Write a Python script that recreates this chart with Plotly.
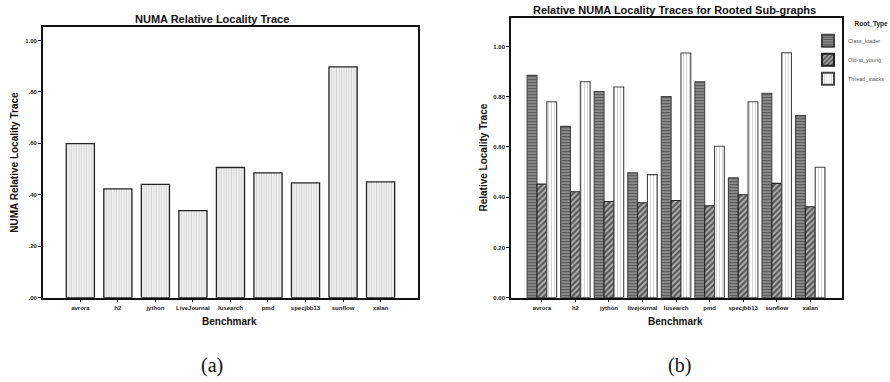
import plotly.graph_objects as go

# ---- data (a) ----
bench_a = ["avrora", "h2", "jython", "LiveJournal", "lusearch", "pmd", "specjbb13", "sunflow", "xalan"]
trace_a = [0.599, 0.423, 0.440, 0.338, 0.506, 0.485, 0.446, 0.897, 0.450]
ytick_vals = [0.0, 0.2, 0.4, 0.6, 0.8, 1.0]
ytick_text_a = [".00", ".20", ".40", ".60", ".80", "1.00"]

# ---- data (b) ----
bench_b = ["avrora", "h2", "jython", "livejournal", "lusearch", "pmd", "specjbb13", "sunflow", "xalan"]
class_loader = [0.885, 0.682, 0.821, 0.497, 0.801, 0.860, 0.477, 0.814, 0.725]
old_to_young = [0.452, 0.422, 0.383, 0.378, 0.387, 0.366, 0.410, 0.455, 0.362]
thread_stacks = [0.780, 0.860, 0.839, 0.490, 0.974, 0.603, 0.780, 0.975, 0.519]
ytick_text_b = ["0.00", "0.20", "0.40", "0.60", "0.80", "1.00"]

W, H = 890, 382
def px(x): return x / W
def py(y): return (H - y) / H

FONT = "Liberation Sans, Arial, sans-serif"
SERIF = "Liberation Serif, DejaVu Serif, serif"

fig = go.Figure()

fig.add_trace(go.Bar(
    x=bench_a, y=trace_a, xaxis="x", yaxis="y", width=0.75, offset=-0.375,
    showlegend=False,
    marker=dict(color="white", line=dict(color="#222", width=1.3),
                pattern=dict(shape="|", size=2.5, solidity=0.4, fgcolor="#b0b0b0", bgcolor="#f4f4f4")),
))

bw = 0.293
fig.add_trace(go.Bar(
    x=bench_b, y=class_loader, xaxis="x2", yaxis="y2", width=bw, offset=-0.44,
    name="Class_loader",
    marker=dict(color="white", line=dict(color="#444", width=1.1),
                pattern=dict(shape="-", size=3, solidity=0.5, fgcolor="#111", bgcolor="#9a9a9a")),
))
fig.add_trace(go.Bar(
    x=bench_b, y=old_to_young, xaxis="x2", yaxis="y2", width=bw, offset=-0.147,
    name="Old-to_young",
    marker=dict(color="white", line=dict(color="#222", width=1.1),
                pattern=dict(shape="/", size=4, solidity=0.6, fgcolor="#000", bgcolor="#b8b8b8")),
))
fig.add_trace(go.Bar(
    x=bench_b, y=thread_stacks, xaxis="x2", yaxis="y2", width=bw, offset=0.146,
    name="Thread_stacks",
    marker=dict(color="white", line=dict(color="#444", width=1.1),
                pattern=dict(shape="|", size=3, solidity=0.35, fgcolor="#aaa", bgcolor="white")),
))

tickfont = dict(family=FONT, size=6, color="#222", weight="bold")
axis_common = dict(showgrid=False, zeroline=False, showline=True, linecolor="#111", linewidth=1.5,
                   mirror=True, ticks="outside", ticklen=3, tickwidth=1, tickcolor="#111",
                   tickfont=tickfont, fixedrange=True)

fig.update_layout(
    width=W, height=H, margin=dict(l=0, r=0, t=0, b=0),
    paper_bgcolor="white", plot_bgcolor="white",
    barmode="overlay",
    xaxis=dict(domain=[px(43), px(420)], anchor="y", type="category", range=[-1, 9],
               categoryorder="array", categoryarray=bench_a, **axis_common),
    yaxis=dict(domain=[py(300), py(27)], anchor="x", range=[0, 1.053],
               tickvals=ytick_vals, ticktext=ytick_text_a, **axis_common),
    xaxis2=dict(domain=[px(513.3), px(845.3)], anchor="y2", type="category", range=[-0.92, 8.93],
                categoryorder="array", categoryarray=bench_b, **axis_common),
    yaxis2=dict(domain=[py(300), py(18.3)], anchor="x2", range=[0, 1.113],
                tickvals=ytick_vals, ticktext=ytick_text_b, **axis_common),
    legend=dict(x=px(812), y=py(18), xanchor="left", yanchor="top",
                font=dict(family=FONT, size=5.5, color="#555"),
                title=dict(text="Root_Type", side="top right",
                           font=dict(family=FONT, size=6.5, color="#222", weight="bold")),
                bgcolor="rgba(0,0,0,0)", tracegroupgap=0, itemsizing="constant"),
)

ann = []
def add_text(text, x, y, size, family=FONT, weight="bold", angle=0, color="#111"):
    ann.append(dict(text=text, x=px(x), y=py(y), xref="paper", yref="paper", showarrow=False,
                    xanchor="center", yanchor="middle", textangle=angle,
                    font=dict(family=family, size=size, color=color, weight=weight)))

add_text("NUMA Relative Locality Trace", 213, 19, 11)
add_text("Relative NUMA Locality Traces for Rooted Sub-graphs", 678, 10, 11)
add_text("Benchmark", 231, 324, 10)
add_text("Benchmark", 679, 324, 10)
add_text("NUMA Relative Locality Trace", 15, 163, 10, angle=-90)
add_text("Relative Locality Trace", 486, 159, 10, angle=-90)
add_text("(a)", 213, 368, 20, family=SERIF, weight="normal")
add_text("(b)", 683, 368, 20, family=SERIF, weight="normal")
fig.update_layout(annotations=ann)

fig.write_html("out.html")
